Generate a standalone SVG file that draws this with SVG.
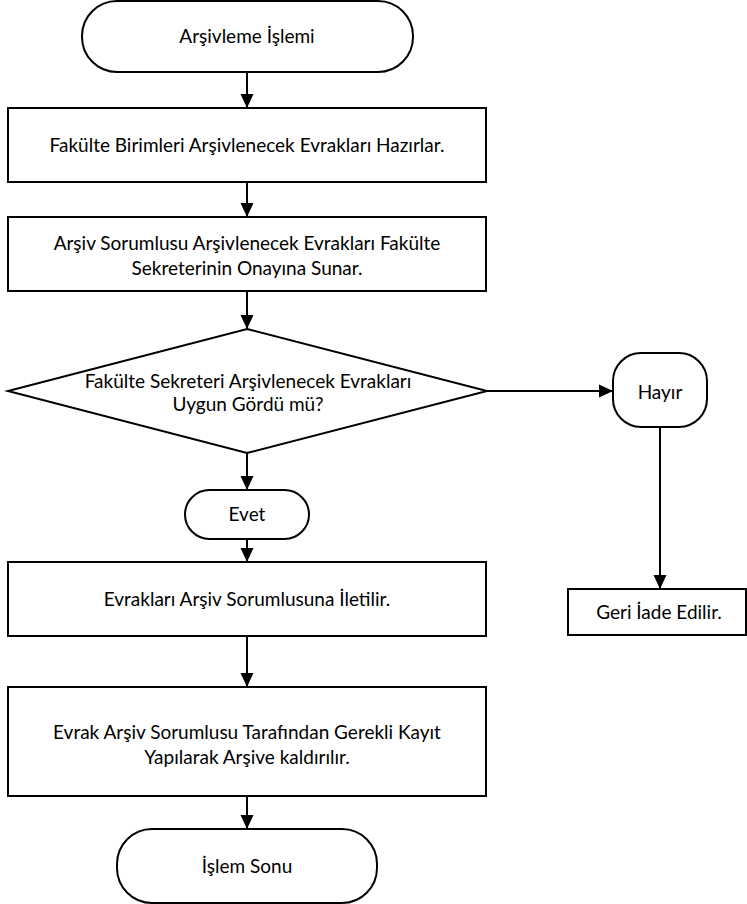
<svg xmlns="http://www.w3.org/2000/svg" width="747" height="904" viewBox="0 0 747 904">
<style>
.s{fill:#fff;stroke:#000;stroke-width:2}
.c{stroke:#000;stroke-width:2;fill:none}
text{font-family:Lato,"Liberation Sans",sans-serif;font-size:19px;fill:#000;text-anchor:middle}
</style>
<defs>
<marker id="arr" markerWidth="14" markerHeight="14" refX="14" refY="7" orient="auto" markerUnits="userSpaceOnUse"><path d="M0,0.5 L14,7 L0,13.5 z" fill="#000"/></marker>
</defs>
<rect x="0" y="0" width="747" height="904" fill="#fff"/>
<g id="connectors">
<line class="c" x1="247" y1="72" x2="247" y2="108" marker-end="url(#arr)"/>
<line class="c" x1="247" y1="182" x2="247" y2="217" marker-end="url(#arr)"/>
<line class="c" x1="247" y1="291" x2="247" y2="329" marker-end="url(#arr)"/>
<line class="c" x1="247" y1="453" x2="247" y2="490" marker-end="url(#arr)"/>
<line class="c" x1="247" y1="539" x2="247" y2="562" marker-end="url(#arr)"/>
<line class="c" x1="247" y1="636" x2="247" y2="687" marker-end="url(#arr)"/>
<line class="c" x1="247" y1="796" x2="247" y2="829" marker-end="url(#arr)"/>
<line class="c" x1="487" y1="391" x2="613" y2="391" marker-end="url(#arr)"/>
<line class="c" x1="660" y1="427" x2="660" y2="589" marker-end="url(#arr)"/>
</g>
<g id="start">
<rect class="s" x="82" y="1" width="331" height="71" rx="35" ry="35"/>
<text x="247" y="43">Arşivleme İşlemi</text>
</g>
<g id="box1">
<rect class="s" x="8" y="108" width="478" height="74"/>
<text x="247" y="152">Fakülte Birimleri Arşivlenecek Evrakları Hazırlar.</text>
</g>
<g id="box2">
<rect class="s" x="8" y="217" width="478" height="74"/>
<text x="247" y="250">Arşiv Sorumlusu Arşivlenecek Evrakları Fakülte</text>
<text x="247" y="275">Sekreterinin Onayına Sunar.</text>
</g>
<g id="decision">
<polygon class="s" points="247,329 487,391 247,453 8,391"/>
<text x="248" y="388">Fakülte Sekreteri Arşivlenecek Evrakları</text>
<text x="248" y="411">Uygun Gördü mü?</text>
</g>
<g id="hayir">
<rect class="s" x="613" y="353" width="94" height="74" rx="28" ry="28"/>
<text x="660" y="399">Hayır</text>
</g>
<g id="geri">
<rect class="s" x="568" y="589" width="178" height="46"/>
<text x="659" y="619">Geri İade Edilir.</text>
</g>
<g id="evet">
<rect class="s" x="185" y="490" width="124" height="49" rx="24.5" ry="24.5"/>
<text x="247" y="521">Evet</text>
</g>
<g id="box3">
<rect class="s" x="8" y="562" width="478" height="74"/>
<text x="247" y="606">Evrakları Arşiv Sorumlusuna İletilir.</text>
</g>
<g id="box4">
<rect class="s" x="8" y="687" width="478" height="109"/>
<text x="247" y="739">Evrak Arşiv Sorumlusu Tarafından Gerekli Kayıt</text>
<text x="247" y="764">Yapılarak Arşive kaldırılır.</text>
</g>
<g id="end">
<rect class="s" x="117" y="829" width="260" height="74" rx="35" ry="35"/>
<text x="247" y="873">İşlem Sonu</text>
</g>
</svg>
